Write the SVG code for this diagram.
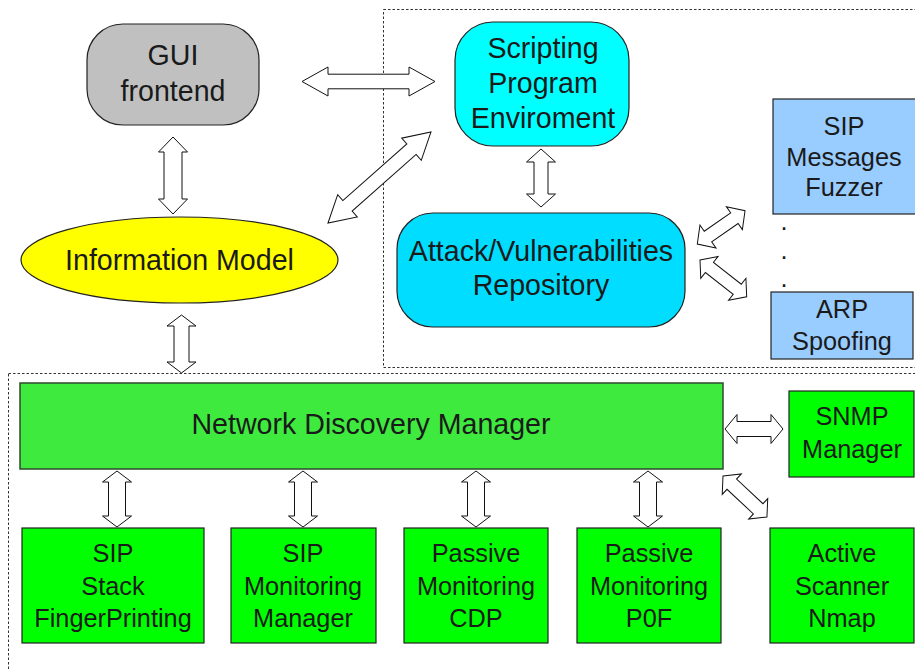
<svg xmlns="http://www.w3.org/2000/svg" width="915" height="670" viewBox="0 0 915 670">
<style>
text{font-family:"Liberation Sans",Arial,sans-serif;fill:#1a1a1a;text-anchor:middle}
.big{font-size:28.6px}
.sm{font-size:25.3px}
.node{stroke:#222;stroke-width:1.2}
.dash{fill:none;stroke:#333;stroke-width:1;stroke-dasharray:2.5,2}
.arr{fill:#fff;stroke:#111;stroke-width:1}
</style>
<rect width="915" height="670" fill="#fff"/>
<rect class="dash" x="383.5" y="9.5" width="540" height="358"/>
<rect class="dash" x="8.5" y="373.5" width="920" height="310"/>

<g id="gui"><rect class="node" x="87" y="24" width="172" height="101" rx="36" fill="#c0c0c0"/>
<text class="big" x="173" y="65">GUI</text><text class="big" x="173" y="101">frontend</text></g>

<g id="info"><ellipse class="node" cx="179.5" cy="260" rx="158.5" ry="43" fill="#ffff00"/>
<text class="big" x="179.5" y="270">Information Model</text></g>

<g id="script"><rect class="node" x="455" y="22" width="174" height="124" rx="38" fill="#00ffff"/>
<text class="big" x="543" y="58">Scripting</text><text class="big" x="543" y="93">Program</text><text class="big" x="543" y="128">Enviroment</text></g>

<g id="attack"><rect class="node" x="397" y="213" width="288" height="114" rx="36" fill="#00ddff"/>
<text class="big" x="541" y="261">Attack/Vulnerabilities</text><text class="big" x="541" y="295">Repository</text></g>

<g id="fuzzer"><rect class="node" x="773" y="99" width="150" height="115" fill="#99ccff"/>
<text class="sm" x="844" y="135">SIP</text><text class="sm" x="844" y="166">Messages</text><text class="sm" x="844" y="196">Fuzzer</text></g>

<g id="dots"><text class="sm" x="784" y="230">.</text><text class="sm" x="784" y="259">.</text><text class="sm" x="784" y="287">.</text></g>

<g id="arp"><rect class="node" x="771" y="292" width="142" height="67" fill="#99ccff"/>
<text class="sm" x="842" y="318">ARP</text><text class="sm" x="842" y="350">Spoofing</text></g>

<g id="ndm"><rect x="20" y="383" width="703" height="86" fill="#3fea3f" stroke="#2e4a2e" stroke-width="1.5"/>
<text class="big" x="371" y="434">Network Discovery Manager</text></g>

<g id="snmp"><rect class="node" x="789" y="391" width="125" height="86" fill="#00ff00"/>
<text class="sm" x="852" y="425">SNMP</text><text class="sm" x="852" y="458">Manager</text></g>

<g id="sipstack"><rect class="node" x="22" y="528" width="182" height="115" fill="#00ff00"/>
<text class="sm" x="113" y="562">SIP</text><text class="sm" x="113" y="595">Stack</text><text class="sm" x="113" y="627">FingerPrinting</text></g>

<g id="sipmon"><rect class="node" x="231" y="528" width="145" height="115" fill="#00ff00"/>
<text class="sm" x="303" y="562">SIP</text><text class="sm" x="303" y="595">Monitoring</text><text class="sm" x="303" y="627">Manager</text></g>

<g id="cdp"><rect class="node" x="404" y="528" width="144" height="115" fill="#00ff00"/>
<text class="sm" x="476" y="562">Passive</text><text class="sm" x="476" y="595">Monitoring</text><text class="sm" x="476" y="627">CDP</text></g>

<g id="p0f"><rect class="node" x="577" y="528" width="144" height="115" fill="#00ff00"/>
<text class="sm" x="649" y="562">Passive</text><text class="sm" x="649" y="595">Monitoring</text><text class="sm" x="649" y="627">P0F</text></g>

<g id="nmap"><rect class="node" x="770" y="528" width="144" height="115" fill="#00ff00"/>
<text class="sm" x="842" y="562">Active</text><text class="sm" x="842" y="595">Scanner</text><text class="sm" x="842" y="627">Nmap</text></g>

<g id="connectors">
<polygon class="arr" transform="translate(302,81.5)" points="0,0 26,-14.5 26,-7.3 107,-7.3 107,-14.5 133,0 107,14.5 107,7.3 26,7.3 26,14.5"/>
<polygon class="arr" transform="translate(173,137) rotate(90)" points="0,0 15,-14.5 15,-9 62,-9 62,-14.5 77,0 62,14.5 62,9 15,9 15,14.5"/>
<polygon class="arr" transform="translate(328,223) rotate(-41.46)" points="0,0 26,-14.8 26,-7 111.4,-7 111.4,-14.8 137.4,0 111.4,14.8 111.4,7 26,7 26,14.8"/>
<polygon class="arr" transform="translate(181.5,315) rotate(90)" points="0,0 11,-14.5 11,-7.5 47,-7.5 47,-14.5 58,0 47,14.5 47,7.5 11,7.5 11,14.5"/>
<polygon class="arr" transform="translate(541,149) rotate(90)" points="0,0 13,-14.5 13,-7 45,-7 45,-14.5 58,0 45,14.5 45,7 13,7 13,14.5"/>
<polygon class="arr" transform="translate(697.3,244) rotate(-34.9)" points="0,0 13,-14 13,-6.5 45.2,-6.5 45.2,-14 58.2,0 45.2,14 45.2,6.5 13,6.5 13,14"/>
<polygon class="arr" transform="translate(700,260) rotate(38.2)" points="0,0 12,-14 12,-6.5 47.4,-6.5 47.4,-14 59.4,0 47.4,14 47.4,6.5 12,6.5 12,14"/>
<polygon class="arr" transform="translate(725,429)" points="0,0 12,-14.5 12,-7.5 46,-7.5 46,-14.5 58,0 46,14.5 46,7.5 12,7.5 12,14.5"/>
<polygon class="arr" transform="translate(723,476) rotate(43)" points="0,0 12,-14 12,-7 48.1,-7 48.1,-14 60.1,0 48.1,14 48.1,7 12,7 12,14"/>
<polygon class="arr" transform="translate(117,471) rotate(90)" points="0,0 11,-14.5 11,-8.5 45,-8.5 45,-14.5 56,0 45,14.5 45,8.5 11,8.5 11,14.5"/>
<polygon class="arr" transform="translate(303,471) rotate(90)" points="0,0 11,-14.5 11,-8.5 45,-8.5 45,-14.5 56,0 45,14.5 45,8.5 11,8.5 11,14.5"/>
<polygon class="arr" transform="translate(476,471) rotate(90)" points="0,0 11,-14.5 11,-8.5 45,-8.5 45,-14.5 56,0 45,14.5 45,8.5 11,8.5 11,14.5"/>
<polygon class="arr" transform="translate(648,471) rotate(90)" points="0,0 11,-14.5 11,-8.5 45,-8.5 45,-14.5 56,0 45,14.5 45,8.5 11,8.5 11,14.5"/>
</g>
</svg>
